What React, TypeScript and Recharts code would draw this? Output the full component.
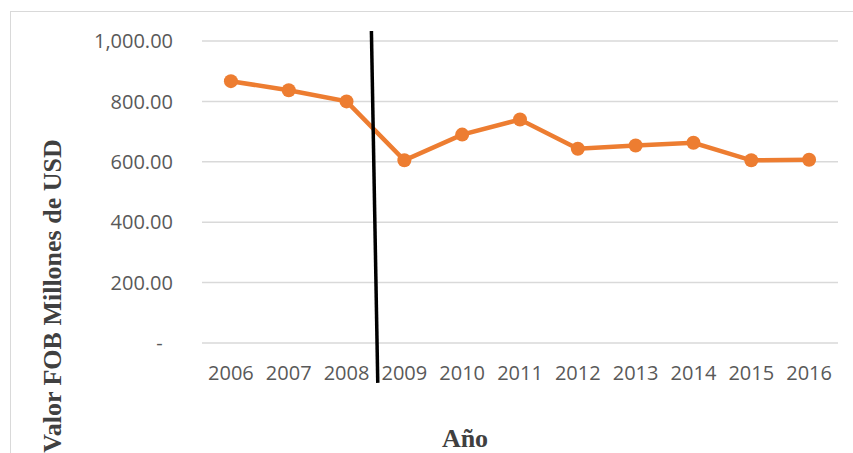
import { LineChart, Line, XAxis, YAxis, CartesianGrid, ReferenceLine, Label } from 'recharts'

const years = [2006, 2007, 2008, 2009, 2010, 2011, 2012, 2013, 2014, 2015, 2016]
const fobValues = [867, 837, 800, 605, 690, 740, 643, 654, 663, 605, 607]
const yTicks = [0, 200, 400, 600, 800, 1000]
// hand-drawn divider between 2008 and 2009
const dividerTop = { x: 2008.43, y: 1033 }
const dividerBottom = { x: 2008.54, y: -132 }

const data = years.map((year, i) => ({ year, value: fobValues[i] }))

const tickFont = { fontFamily: 'Open Sans', fontSize: 20, fill: '#595959' }
const titleFont = { fontFamily: 'Liberation Serif', fontSize: 26, fontWeight: 'bold', fill: '#404040' }

function formatY(v: number) {
  if (v === 0) return '-\u00a0\u00a0'
  return v.toLocaleString('en-US', { minimumFractionDigits: 2, maximumFractionDigits: 2 })
}

export default function App() {
  return (
    <div style={{ position: 'absolute', left: 0, top: 0, width: 853, height: 453, overflow: 'hidden', background: '#fff' }}>
      <div
        style={{
          position: 'absolute',
          left: 10,
          top: 11,
          right: -5,
          bottom: -5,
          borderTop: '1px solid #d9d9d9',
          borderLeft: '1px solid #d9d9d9'
        }}
      />
      <LineChart
        width={853}
        height={453}
        data={data}
        margin={{ top: 41, right: 15, bottom: 30, left: 0 }}
        style={{ position: 'absolute', left: 0, top: 0 }}
      >
        <CartesianGrid vertical={false} stroke="#d9d9d9" strokeWidth={1.5} />
        <XAxis
          type="number"
          dataKey="year"
          domain={[2005.5, 2016.5]}
          ticks={years}
          tickFormatter={(v: number) => String(v)}
          axisLine={false}
          tickLine={false}
          tickSize={0}
          tickMargin={23}
          tick={tickFont}
          interval={0}
          height={80}
        >
          <Label
            content={() => (
              <text x={465} y={447} textAnchor="middle" style={titleFont as any}>
                Año
              </text>
            )}
          />
        </XAxis>
        <YAxis
          width={202}
          domain={[0, 1000]}
          ticks={yTicks}
          tickFormatter={formatY}
          axisLine={false}
          tickLine={false}
          tickSize={0}
          tickMargin={29}
          tick={tickFont}
          interval={0}
        >
          <Label
            content={() => (
              <text
                x={61}
                y={296}
                textAnchor="middle"
                transform="rotate(-90, 61, 296)"
                style={titleFont as any}
              >
                Valor FOB Millones de USD
              </text>
            )}
          />
        </YAxis>
        <Line
          dataKey="value"
          stroke="#ED7D31"
          strokeWidth={4.5}
          dot={{ r: 7, fill: '#ED7D31', stroke: '#ED7D31', strokeWidth: 0 }}
          isAnimationActive={false}
        />
        <ReferenceLine
          segment={[dividerTop, dividerBottom]}
          stroke="#000"
          strokeWidth={3.5}
          ifOverflow="visible"
        />
      </LineChart>
    </div>
  )
}
